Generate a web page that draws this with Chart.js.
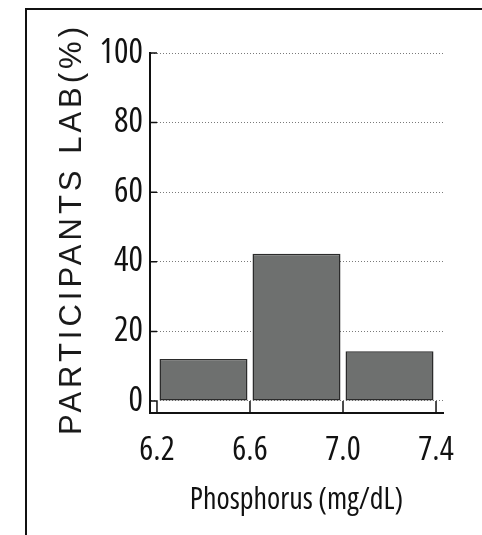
<!DOCTYPE html>
<html>
<head>
<meta charset="utf-8">
<script src="https://cdn.jsdelivr.net/npm/chart.js@4"></script>
<style>
	html, body { margin: 0; padding: 0; background: #fff; }
	#wrap { position: relative; width: 482px; height: 535px; overflow: hidden; }
	#frame { position: absolute; left: 25px; top: 8px; width: 520px; height: 560px; border-left: 2px solid #111; border-top: 2px solid #111; }
	canvas { position: absolute; left: 0; top: 0; }
</style>
</head>
<body>
<div id="wrap">
	<div id="frame"></div>
	<canvas id="hist" width="482" height="535"></canvas>
</div>
<script>
// bin centres (mg/dL) and share of labs in each bin (%)
const binCenters = [6.4, 6.8, 7.2];
const percentages = [12.1, 42.3, 14.3];
const xTickValues = [6.2, 6.6, 7.0, 7.4];
const yTickValues = [0, 20, 40, 60, 80, 100];
const yTitle = 'PARTICIPANTS LAB(%)';
const xTitle = 'Phosphorus (mg/dL)';

// narrow face: Open Sans squeezed via font-stretch, DejaVu condensed as fallback
const narrow = "'Open Sans', 'DejaVu Sans Condensed', sans-serif";
const squeeze = 'condensed';

// short inward ticks, like the original plot
const innerTicks = {
	id: 'innerTicks',
	afterDraw(chart) {
		const ctx = chart.ctx;
		const x = chart.scales.x, y = chart.scales.y;
		const area = chart.chartArea;
		const zero = y.getPixelForValue(0);
		ctx.save();
		ctx.strokeStyle = '#111';
		ctx.lineWidth = 1.5;
		ctx.beginPath();
		yTickValues.forEach(v => {
			const py = y.getPixelForValue(v);
			ctx.moveTo(area.left, py);
			ctx.lineTo(area.left + 7, py);
		});
		xTickValues.forEach(v => {
			const px = x.getPixelForValue(v);
			ctx.moveTo(px, area.bottom);
			ctx.lineTo(px, zero);
		});
		ctx.stroke();

		// spaced-out vertical title
		ctx.translate(72, 229);
		ctx.rotate(-Math.PI / 2);
		ctx.font = "31px 'Liberation Sans', Arial, sans-serif";
		ctx.letterSpacing = '4px';
		ctx.fillStyle = '#1a1a1a';
		ctx.textAlign = 'center';
		ctx.textBaseline = 'middle';
		ctx.fillText(yTitle, 0, 0);
		ctx.restore();
	}
};

new Chart(document.getElementById('hist'), {
	type: 'bar',
	data: {
		datasets: [{
			data: binCenters.map((c, i) => ({ x: c, y: percentages[i] })),
			backgroundColor: '#6e706f',
			borderColor: '#2b2b2b',
			borderWidth: 1.5,
			borderSkipped: false,
			barPercentage: 1,
			categoryPercentage: 0.946
		}]
	},
	options: {
		responsive: false,
		animation: false,
		events: [],
		layout: { padding: { top: 53, right: 39, left: 0, bottom: 0 } },
		plugins: { legend: { display: false }, tooltip: { enabled: false } },
		scales: {
			x: {
				type: 'linear',
				offset: false,
				min: 6.17,
				max: 7.43,
				afterBuildTicks: s => { s.ticks = xTickValues.map(v => ({ value: v })); },
				afterFit: s => { s.height = 122; },
				ticks: {
					color: '#111',
					padding: 18,
					font: { family: narrow, size: 33, weight: squeeze },
					callback: v => v.toFixed(1)
				},
				grid: { drawOnChartArea: false, drawTicks: false },
				border: { display: true, color: '#111', width: 2 },
				title: {
					display: true,
					text: xTitle,
					color: '#111',
					font: { family: narrow, size: 30, weight: squeeze },
					padding: { top: 0, bottom: 17 }
				}
			},
			y: {
				min: -3.45,
				max: 100,
				afterBuildTicks: s => { s.ticks = yTickValues.map(v => ({ value: v })); },
				afterFit: s => { s.width = 150; },
				ticks: {
					color: '#111',
					padding: 7,
					font: { family: narrow, size: 34, weight: squeeze }
				},
				grid: { color: '#7a7a7a', lineWidth: 1, drawTicks: false },
				border: { display: true, color: '#111', width: 2, dash: [1, 2] }
			}
		}
	},
	plugins: [innerTicks]
});
</script>
</body>
</html>
